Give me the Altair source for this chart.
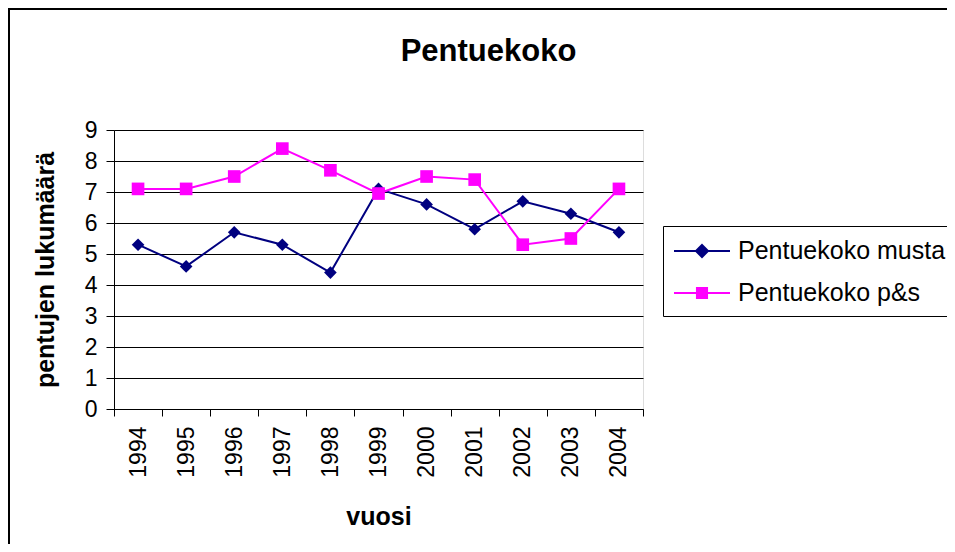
import altair as alt
import pandas as pd

years = ["1994", "1995", "1996", "1997", "1998", "1999", "2000", "2001", "2002", "2003", "2004"]
musta = [5.3, 4.6, 5.7, 5.3, 4.4, 7.1, 6.6, 5.8, 6.7, 6.3, 5.7]
ps = [7.1, 7.1, 7.5, 8.4, 7.7, 6.95, 7.5, 7.4, 5.3, 5.5, 7.1]
series_names = ["Pentuekoko musta", "Pentuekoko p&s"]
colors = ["#000080", "#FF00FF"]
y_ticks = [0, 1, 2, 3, 4, 5, 6, 7, 8, 9]

rows = []
for name, vals in zip(series_names, [musta, ps]):
    for yr, v in zip(years, vals):
        rows.append({"vuosi": yr, "arvo": v, "sarja": name})
df = pd.DataFrame(rows)

FONT = "Liberation Sans"

x_enc = alt.X(
    "vuosi:O",
    scale=alt.Scale(type="band", domain=years, paddingInner=0, paddingOuter=0),
    axis=alt.Axis(
        title="vuosi", labelAngle=270, tickBand="extent", grid=False,
        labelFont=FONT, labelFontSize=23, labelColor="black", labelPadding=10,
        titleFont=FONT, titleFontSize=25, titleFontWeight="bold", titleColor="black",
        titlePadding=27, tickSize=7, tickColor="black", domainColor="black",
    ),
)
y_enc = alt.Y(
    "arvo:Q",
    scale=alt.Scale(domain=[0, 9], nice=False, zero=True),
    axis=alt.Axis(
        title="pentujen lukumäärä", values=y_ticks, grid=True, gridColor="black",
        gridOpacity=1, gridWidth=1,
        labelFont=FONT, labelFontSize=23, labelColor="black", labelPadding=9,
        titleFont=FONT, titleFontSize=25, titleFontWeight="bold", titleColor="black",
        titlePadding=26, tickSize=8, tickColor="black", domainColor="black",
    ),
)

color_scale = alt.Scale(domain=series_names, range=colors)

base = alt.Chart(df).encode(x=x_enc, y=y_enc)

lines = base.mark_line(strokeWidth=2).encode(
    color=alt.Color("sarja:N", scale=color_scale, legend=None)
)
points = base.mark_point(filled=True, opacity=1, size=160).encode(
    color=alt.Color("sarja:N", scale=color_scale, legend=None),
    shape=alt.Shape("sarja:N", scale=alt.Scale(domain=series_names, range=["diamond", "square"]), legend=None),
)

leg = alt.Legend(
    title=None, orient="none", legendX=549, legendY=96,
    strokeColor="black", fillColor="white", padding=10,
    labelFont=FONT, labelFontSize=25, labelColor="black", labelOffset=35,
    labelLimit=0,
    symbolSize=784, symbolStrokeWidth=2, symbolOpacity=1, rowPadding=14,
)
leg_paths = [
    "M-1,0H3M1,-0.43L1.43,0L1,0.43L0.57,0Z",
    "M-1,0H3M0.64,-0.36H1.36V0.36H0.64Z",
]
legend_layer = base.mark_point(filled=True, opacity=1, strokeWidth=2).encode(
    fill=alt.Fill("sarja:N", scale=alt.Scale(domain=series_names, range=colors), legend=leg),
    stroke=alt.Stroke("sarja:N", scale=alt.Scale(domain=series_names, range=colors), legend=leg),
    shape=alt.Shape("sarja:N", scale=alt.Scale(domain=series_names, range=leg_paths), legend=leg),
).transform_filter("false")

frame = alt.Chart(alt.Data(values=[{"a": 1}])).mark_rect(
    filled=False, stroke="black", strokeWidth=2, clip=False
).encode(
    x=alt.value(-105), x2=alt.value(845), y=alt.value(-121), y2=alt.value(430)
)

chart = alt.layer(lines, points, legend_layer, frame).resolve_scale(
    shape="independent", fill="independent", stroke="independent"
).resolve_legend(
    shape="independent", fill="independent", stroke="independent"
).properties(
    width=529, height=279,
    title=alt.TitleParams(
        "Pentuekoko", font=FONT, fontSize=31, fontWeight="bold", color="black",
        anchor="middle", dx=110, offset=-60,
    ),
    autosize=alt.AutoSizeParams(type="none"),
    padding={"left": 106, "top": 122, "right": 304, "bottom": 135},
).configure_view(
    fill="#C0C0C0", stroke="#808080", strokeWidth=2
).configure(background="white")

chart.save("out.html", embed_options={"renderer": "svg", "actions": False})
